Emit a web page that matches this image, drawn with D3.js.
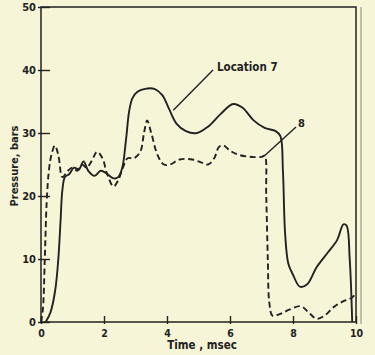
<!DOCTYPE html>
<html><head><meta charset="utf-8">
<script src="https://cdn.jsdelivr.net/npm/d3@7"></script>
<style>
html,body{margin:0;padding:0;background:#f7f5d8;}
svg{display:block;}
text{font-family:"Liberation Sans Narrow","DejaVu Sans Condensed",Arial,sans-serif;font-weight:bold;fill:#222;}
</style></head>
<body>
<svg id="c" width="375" height="355"></svg>
<script>
// Location 7 (solid)
const loc7Time = [0.15,0.3,0.45,0.55,0.62,0.68,0.76,0.9,1.05,1.2,1.35,1.5,1.7,1.9,2.1,2.3,2.45,2.58,2.7,2.8,2.9,3.05,3.3,3.6,3.85,4.05,4.3,4.6,4.95,5.3,5.7,6.1,6.4,6.75,7.1,7.45,7.6,7.68,7.75,7.85,8.0,8.22,8.45,8.75,9.1,9.4,9.6,9.7,9.8,9.88];
const loc7Pressure = [0,1.5,5,10,16,21,23,23.5,24.5,24.2,25.5,24,23.2,24,23.5,22.8,23,24.5,29,33.5,35.5,36.5,37,37,36,34,31.5,30.3,30,31,33,34.6,34,32,30.8,30.3,29.5,24,14,9.3,7.5,5.6,6,8.7,11,13,15.5,15.3,10,0];
// Location 8 (dashed)
const loc8Time = [0,0.06,0.12,0.18,0.25,0.33,0.44,0.55,0.68,0.85,1.0,1.15,1.3,1.45,1.6,1.78,1.95,2.1,2.3,2.45,2.6,2.75,2.95,3.15,3.27,3.37,3.5,3.7,3.9,4.1,4.4,4.8,5.1,5.3,5.5,5.65,5.8,6.0,6.3,6.7,7.0,7.1,7.15,7.2,7.25,7.35,7.6,7.9,8.25,8.5,8.75,9.0,9.3,9.6,9.85,10];
const loc8Pressure = [0,2,10,19,24,26.5,28,26.5,23,24,24.5,24,25,24.5,25.5,27,26,23.5,21.5,22.5,24.5,26,26,27,30,32,30,26.5,25,25,25.8,25.8,25.3,25,26,27.8,28,27.2,26.5,26.2,26.2,26.4,20,10,3,1,1.3,2,2.5,1.5,0.5,1,2.4,3.3,3.8,4.5];
const xTicks = [0,2,4,6,8,10];
const yTicks = [0,10,20,30,40,50];
const xTitle = "Time , msec";
const yTitle = "Pressure, bars";
const label7 = "Location 7";
const label8 = "8";

const svg = d3.select("#c");
const x = d3.scaleLinear().domain([0,10]).range([41,356]);
const y = d3.scaleLinear().domain([0,50]).range([322,7]);
const ink = "#222";

// frame
svg.append("rect").attr("x",x(0)).attr("y",y(50)).attr("width",x(10)-x(0)).attr("height",y(0)-y(50))
  .attr("fill","none").attr("stroke",ink).attr("stroke-width",1.5);
svg.append("line").attr("x1",x(10)+5).attr("x2",x(10)+5).attr("y1",y(50)).attr("y2",y(0)+2)
  .attr("stroke","#8a8a70").attr("stroke-width",1);

// y axis
const ya = svg.append("g").attr("transform",`translate(${x(0)},0)`)
  .call(d3.axisLeft(y).tickValues(yTicks).tickSize(-9).tickPadding(5).tickFormat(d3.format("d")));
ya.select(".domain").remove();
ya.selectAll(".tick line").attr("stroke",ink).attr("stroke-width",1.4).attr("x1",-3);
ya.selectAll(".tick text").attr("font-size",11).attr("fill",ink).style("font-family",null);

// x axis
const xa = svg.append("g").attr("transform",`translate(0,${y(0)})`)
  .call(d3.axisBottom(x).tickValues(xTicks).tickSize(-6).tickPadding(8).tickFormat(d3.format("d")));
xa.select(".domain").remove();
xa.selectAll(".tick line").attr("stroke",ink).attr("stroke-width",1.4).attr("y1",2);
xa.selectAll(".tick text").attr("font-size",10.5).attr("fill",ink).style("font-family",null);

// titles
svg.append("text").attr("x",202).attr("y",349).attr("text-anchor","middle").attr("font-size",11.5).text(xTitle);
svg.append("text").attr("transform",`translate(18,166) rotate(-90)`).attr("text-anchor","middle").attr("font-size",11).text(yTitle);

// lines
const line = d3.line().x(d=>x(d[0])).y(d=>y(d[1])).curve(d3.curveCatmullRom.alpha(0.5));
const d7 = loc7Time.map((t,i)=>[t,loc7Pressure[i]]);
const d8 = loc8Time.map((t,i)=>[t,loc8Pressure[i]]);
svg.append("path").attr("d",line(d8)).attr("fill","none").attr("stroke",ink).attr("stroke-width",1.9).attr("stroke-dasharray","6,3.5");
svg.append("path").attr("d",line(d7)).attr("fill","none").attr("stroke",ink).attr("stroke-width",1.9);

// annotations
svg.append("text").attr("x",217).attr("y",71).attr("font-size",11.5).text(label7);
svg.append("line").attr("x1",213).attr("y1",70).attr("x2",x(4.2)).attr("y2",y(33.6)).attr("stroke",ink).attr("stroke-width",1.4);
svg.append("text").attr("x",298).attr("y",127).attr("font-size",11).text(label8);
svg.append("line").attr("x1",296).attr("y1",127).attr("x2",x(7.08)).attr("y2",y(26.3)).attr("stroke",ink).attr("stroke-width",1.4);
</script>
</body></html>
